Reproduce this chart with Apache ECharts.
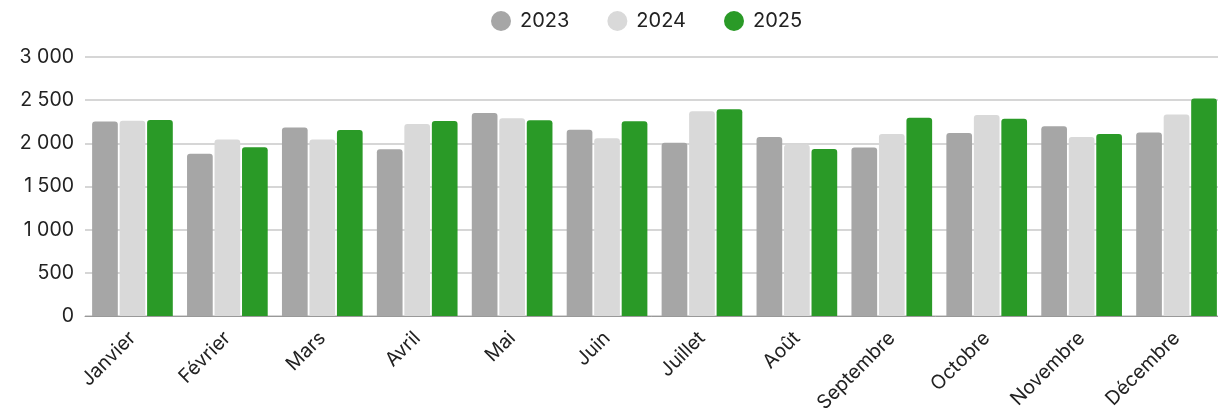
<!DOCTYPE html>
<html>
<head>
<meta charset="utf-8">
<script src="https://cdn.jsdelivr.net/npm/echarts@6/dist/echarts.min.js"></script>
<style>
  html, body { margin: 0; padding: 0; background: #fff; }
  #chart { width: 1218px; height: 412px; }
</style>
</head>
<body>
<div id="chart"></div>
<script>
// mois
var months = ['Janvier', 'Février', 'Mars', 'Avril', 'Mai', 'Juin', 'Juillet', 'Août', 'Septembre', 'Octobre', 'Novembre', 'Décembre']
var years = ['2023', '2024', '2025']
var data2023 = [2253, 1878, 2184, 1931, 2352, 2158, 2007, 2073, 1951, 2119, 2199, 2126]
var data2024 = [2262, 2043, 2043, 2223, 2291, 2058, 2372, 1984, 2108, 2329, 2073, 2334]
var data2025 = [2270, 1954, 2154, 2258, 2267, 2256, 2395, 1934, 2297, 2286, 2108, 2520]
var colors = ['#a6a6a6', '#d9d9d9', '#2a9a27']

var myChart = echarts.init(document.getElementById('chart'))

function fmt(v) {
  return String(v).replace(/\B(?=(\d{3})+(?!\d))/g, ' ')
}

function bar(name, data, color) {
  return {
    name: name,
    type: 'bar',
    data: data,
    barGap: '7%',
    barCategoryGap: '15%',
    itemStyle: { color: color, borderRadius: [3, 3, 0, 0] }
  }
}

myChart.setOption({
  animation: false,
  color: colors,
  textStyle: { fontFamily: 'Inter' },
  legend: {
    top: 6,
    left: 486,
    icon: 'circle',
    itemWidth: 20,
    itemHeight: 20,
    itemGap: 38,
    data: years,
    textStyle: { fontSize: 20, color: '#222', padding: [0, 0, 0, 4] }
  },
  grid: { left: 85, right: -6, top: 57, bottom: 96, outerBoundsMode: 'none' },
  xAxis: {
    type: 'category',
    data: months,
    axisTick: { show: false },
    axisLine: { lineStyle: { color: '#999', width: 1 } },
    axisLabel: { rotate: 45, fontSize: 19.5, color: '#222', margin: 19 }
  },
  yAxis: {
    type: 'value',
    min: 0,
    max: 3000,
    interval: 500,
    axisLine: { show: false },
    axisTick: { show: false },
    splitLine: { lineStyle: { color: '#c8c8c8', width: 1.5 } },
    axisLabel: { fontSize: 19.5, color: '#222', margin: 11, formatter: fmt }
  },
  series: [
    bar(years[0], data2023, colors[0]),
    bar(years[1], data2024, colors[1]),
    bar(years[2], data2025, colors[2])
  ]
})
</script>
</body>
</html>
